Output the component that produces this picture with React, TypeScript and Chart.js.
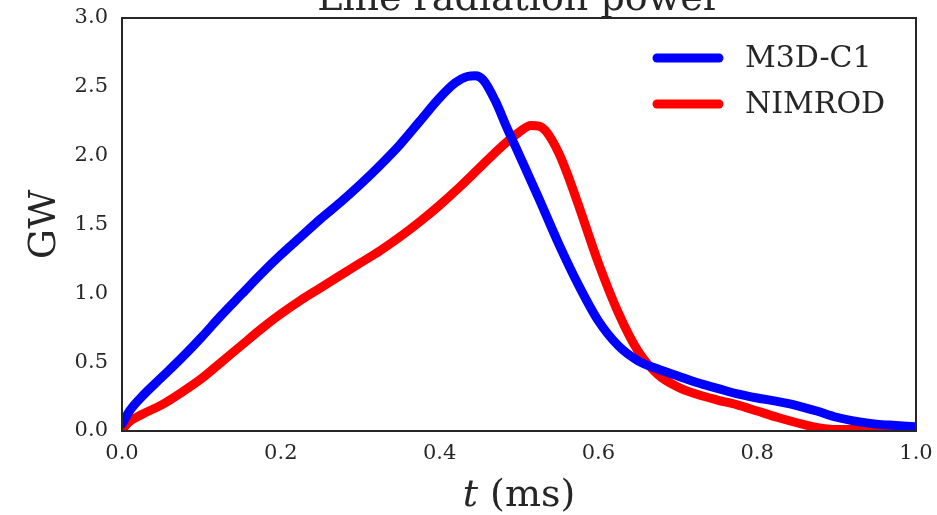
import React, { useEffect, useRef } from "react";
import { Chart, registerables } from "chart.js";

Chart.register(...registerables);

const titleText = "Line radiation power";
const xLabelItalic = "t";
const xLabelRest = " (ms)";
const yLabel = "GW";

const xTicks = [0, 0.2, 0.4, 0.6, 0.8, 1.0];
const yTicks = [0, 0.5, 1.0, 1.5, 2.0, 2.5, 3.0];

const m3dTime = [0, 0.01, 0.025, 0.05, 0.075, 0.1, 0.125, 0.15, 0.175, 0.2, 0.225, 0.25, 0.275, 0.3, 0.325, 0.35, 0.375, 0.4, 0.42, 0.435, 0.445, 0.455, 0.47, 0.485, 0.5, 0.525, 0.55, 0.575, 0.6, 0.625, 0.65, 0.675, 0.7, 0.725, 0.75, 0.775, 0.8, 0.825, 0.85, 0.875, 0.9, 0.925, 0.95, 0.975, 1.0];
const m3dPower = [0.05, 0.15, 0.25, 0.39, 0.53, 0.68, 0.84, 0.99, 1.14, 1.28, 1.41, 1.54, 1.66, 1.79, 1.93, 2.08, 2.25, 2.42, 2.53, 2.575, 2.58, 2.55, 2.4, 2.2, 2.01, 1.69, 1.36, 1.06, 0.8, 0.62, 0.51, 0.45, 0.4, 0.35, 0.31, 0.27, 0.24, 0.215, 0.185, 0.145, 0.1, 0.07, 0.05, 0.04, 0.03];

const nimTime = [0, 0.01, 0.025, 0.05, 0.075, 0.1, 0.125, 0.15, 0.175, 0.2, 0.225, 0.25, 0.275, 0.3, 0.325, 0.35, 0.375, 0.4, 0.425, 0.45, 0.475, 0.5, 0.515, 0.525, 0.535, 0.55, 0.56, 0.575, 0.6, 0.625, 0.65, 0.675, 0.7, 0.725, 0.75, 0.775, 0.8, 0.825, 0.85, 0.875, 0.9, 0.95, 1.0];
const nimPower = [0.01, 0.07, 0.12, 0.19, 0.28, 0.38, 0.5, 0.62, 0.74, 0.85, 0.95, 1.04, 1.13, 1.22, 1.31, 1.41, 1.52, 1.64, 1.77, 1.91, 2.05, 2.17, 2.22, 2.215, 2.17, 2.02, 1.88, 1.64, 1.22, 0.86, 0.58, 0.41, 0.32, 0.265, 0.225, 0.19, 0.145, 0.1, 0.06, 0.025, 0.01, 0.01, 0.01];

const seriesNames = ["M3D-C1", "NIMROD"];
const seriesColors = ["#0000ff", "#ff0000"];

const FONT = "'DejaVu Serif', serif";
const TEXT = "#262626";

const decorPlugin = {
  id: "decor",
  afterDatasetsDraw(chart: any) {
    const { ctx, chartArea } = chart;
    const { left, right, top, bottom } = chartArea;
    ctx.save();
    ctx.strokeStyle = TEXT;
    ctx.lineWidth = 2;
    ctx.strokeRect(left, top, right - left, bottom - top);

    const legX0 = 657;
    const legX1 = 719;
    const legY = [58, 104];
    ctx.lineCap = "round";
    ctx.lineWidth = 9;
    ctx.font = `30px ${FONT}`;
    ctx.textBaseline = "middle";
    ctx.textAlign = "left";
    seriesNames.forEach((name, i) => {
      ctx.strokeStyle = seriesColors[i];
      ctx.beginPath();
      ctx.moveTo(legX0, legY[i]);
      ctx.lineTo(legX1, legY[i]);
      ctx.stroke();
      ctx.fillStyle = TEXT;
      ctx.fillText(name, 745, legY[i] + 1);
    });

    ctx.fillStyle = TEXT;
    ctx.font = `38px ${FONT}`;
    ctx.textAlign = "center";
    ctx.textBaseline = "alphabetic";
    ctx.fillText(titleText, (left + right) / 2, 10);

    const cx = (left + right) / 2;
    ctx.font = `italic 38px ${FONT}`;
    const wItalic = ctx.measureText(xLabelItalic).width;
    ctx.font = `38px ${FONT}`;
    const wRest = ctx.measureText(xLabelRest).width;
    const startX = cx - (wItalic + wRest) / 2;
    ctx.textAlign = "left";
    ctx.font = `italic 38px ${FONT}`;
    ctx.fillText(xLabelItalic, startX, 506);
    ctx.font = `38px ${FONT}`;
    ctx.fillText(xLabelRest, startX + wItalic, 506);

    ctx.translate(55, (top + bottom) / 2);
    ctx.rotate(-Math.PI / 2);
    ctx.textAlign = "center";
    ctx.textBaseline = "alphabetic";
    ctx.font = `38px ${FONT}`;
    ctx.fillText(yLabel, 0, 0);
    ctx.restore();
  },
};

const zeroPad = (s: any) => {
  s.paddingTop = 0;
  s.paddingBottom = 0;
  s.paddingLeft = 0;
  s.paddingRight = 0;
};

export default function App() {
  const canvasRef = useRef<HTMLCanvasElement | null>(null);

  useEffect(() => {
    if (!canvasRef.current) return;
    const mk = (i: number, times: number[], vals: number[]) => ({
      label: seriesNames[i],
      data: times.map((t, k) => ({ x: t, y: vals[k] })),
      borderColor: seriesColors[i],
      borderWidth: 9,
      pointRadius: 0,
      cubicInterpolationMode: "monotone" as const,
      borderCapStyle: "round" as const,
      borderJoinStyle: "round" as const,
      fill: false,
    });
    const chart = new Chart(canvasRef.current, {
      type: "line",
      data: {
        datasets: [mk(0, m3dTime, m3dPower), mk(1, nimTime, nimPower)],
      },
      options: {
        responsive: false,
        animation: false,
        devicePixelRatio: 1,
        layout: { padding: { left: 0, top: 18, right: 21, bottom: 0 } },
        plugins: {
          legend: { display: false },
          title: { display: false },
          tooltip: { enabled: false },
        },
        scales: {
          x: {
            type: "linear",
            min: 0,
            max: 1,
            afterBuildTicks: (s: any) => {
              s.ticks = xTicks.map((v) => ({ value: v }));
            },
            afterFit: (s: any) => {
              s.height = 84;
              zeroPad(s);
            },
            grid: { display: false, drawTicks: false },
            border: { display: false },
            ticks: {
              padding: 10,
              maxRotation: 0,
              autoSkip: false,
              color: TEXT,
              font: { family: FONT, size: 21 },
              callback: (v: any) => Number(v).toFixed(1),
            },
          },
          y: {
            type: "linear",
            min: 0,
            max: 3,
            afterBuildTicks: (s: any) => {
              s.ticks = yTicks.map((v) => ({ value: v }));
            },
            afterFit: (s: any) => {
              s.width = 122;
              zeroPad(s);
            },
            grid: { display: false, drawTicks: false },
            border: { display: false },
            ticks: {
              padding: 14,
              autoSkip: false,
              color: TEXT,
              font: { family: FONT, size: 21 },
              callback: (v: any) => Number(v).toFixed(1),
            },
          },
        },
      },
      plugins: [decorPlugin],
    });
    return () => chart.destroy();
  }, []);

  return (
    <div style={{ position: "fixed", left: 0, top: 0, width: 937, height: 515, background: "#fff" }}>
      <canvas ref={canvasRef} width={937} height={515} style={{ display: "block" }} />
    </div>
  );
}
